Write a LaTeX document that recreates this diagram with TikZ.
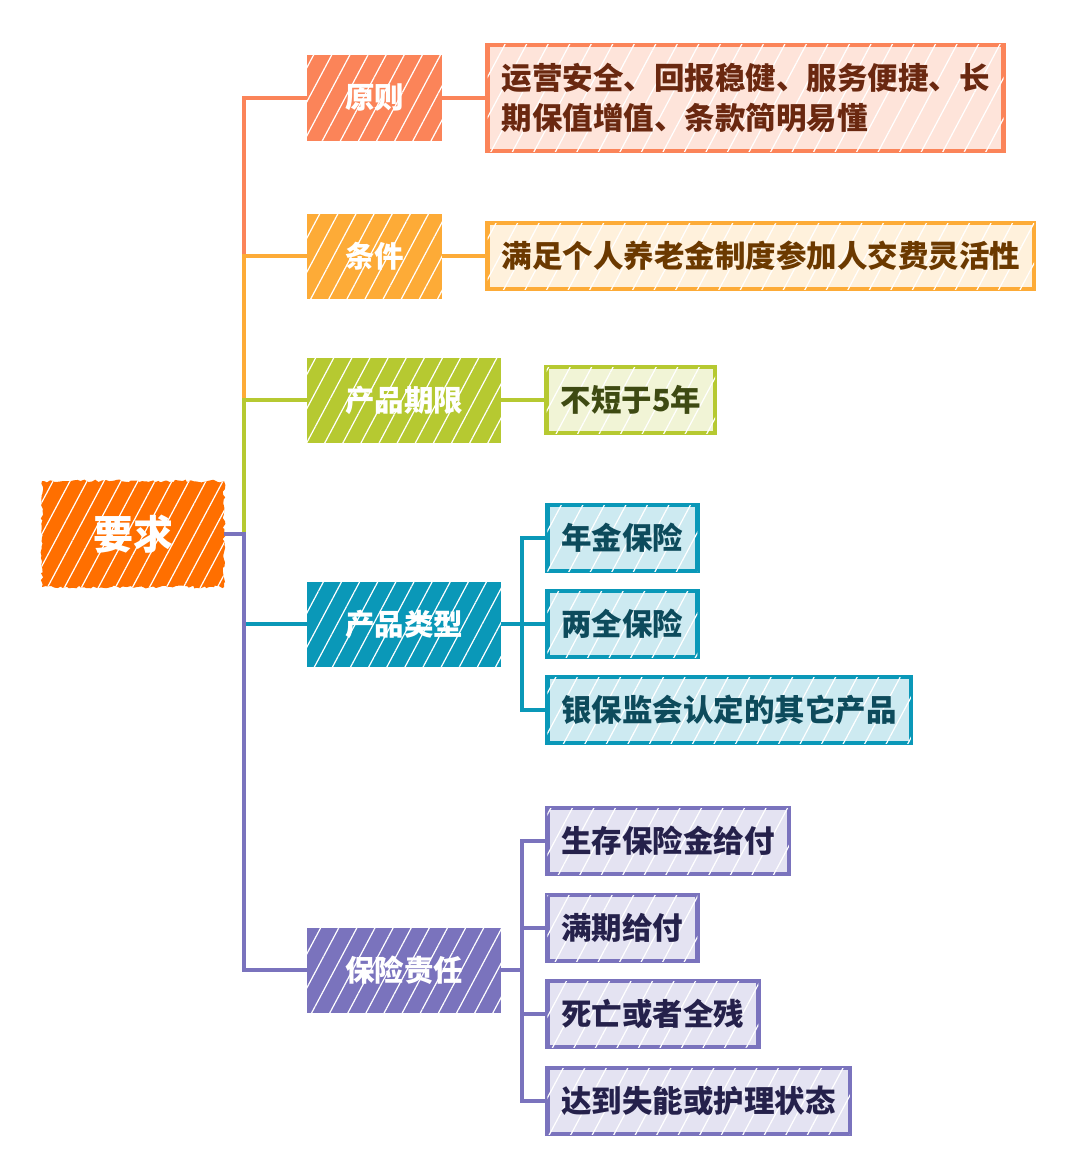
\documentclass[tikz,border=0pt]{standalone}
\usepackage{fontspec}
\setmainfont{Noto Sans CJK SC}
\usetikzlibrary{positioning,patterns.meta,decorations.pathmorphing}
\definecolor{rootorange}{HTML}{FF6F00}
\definecolor{coral}{HTML}{FB8459}
\definecolor{coralpale}{HTML}{FEE4DA}
\definecolor{coraltext}{HTML}{6A2810}
\definecolor{amber}{HTML}{FDAB37}
\definecolor{amberpale}{HTML}{FFF1DC}
\definecolor{ambertext}{HTML}{6B3900}
\definecolor{lime}{HTML}{B6C931}
\definecolor{limepale}{HTML}{F1F4D6}
\definecolor{limetext}{HTML}{3E4A12}
\definecolor{teal}{HTML}{0A98B8}
\definecolor{tealpale}{HTML}{CDEAF1}
\definecolor{tealtext}{HTML}{0D4B5C}
\definecolor{lavender}{HTML}{7A73BD}
\definecolor{lavenderpale}{HTML}{E4E3F2}
\definecolor{lavendertext}{HTML}{25214B}
\tikzset{
  rough/.style={decorate,decoration={random steps,segment length=3pt,amplitude=1.5pt}},
  streaks/.style 2 args={postaction={pattern={Lines[angle=62,distance=#2,line width=1.2pt]},pattern color=white,fill opacity=#1}},
  root/.style={rough,fill=rootorange,streaks={.45}{15pt},text=white,
    font=\bfseries\fontsize{40}{48}\selectfont,minimum width=182pt,minimum height=106pt},
  topic/.style={fill=#1,streaks={.35}{16pt},text=white,anchor=west,
    font=\bfseries\fontsize{29.5}{35}\selectfont,inner xsep=38pt,inner ysep=0pt,minimum height=85pt},
  leaf/.style n args={3}{draw=#1,fill=#2,text=#3,line width=4.5pt,streaks={.3}{19pt},anchor=west,align=left,
    font=\bfseries\fontsize{30.5}{40}\selectfont,inner xsep=14pt,minimum height=66pt},
  branch/.style={draw=#1,line width=4.5pt},
}
\begin{document}
\begin{tikzpicture}[x=1pt,y=-1pt]
  \useasboundingbox (0,0) rectangle (1080,1156);
  % main topic and its branches
  \node[root] (yaoqiu) at (133,534) {要求};
  \coordinate (hub) at (244,534);
  \node[topic=coral]    (yuanze)   at (307,98)  {原则};
  \node[topic=amber]    (tiaojian) at (307,256) {条件};
  \node[topic=lime]     (qixian)   at (307,400) {产品期限};
  \node[topic=teal]     (leixing)  at (307,624) {产品类型};
  \node[topic=lavender] (zeren)    at (307,970) {保险责任};
  % leaves
  \node[leaf={coral}{coralpale}{coraltext},right=43pt of yuanze,minimum height=106pt] (yuanzeA)
    {运营安全、回报稳健、服务便捷、长\\期保值增值、条款简明易懂};
  \node[leaf={amber}{amberpale}{ambertext},right=43pt of tiaojian] (tiaojianA) {满足个人养老金制度参加人交费灵活性};
  \node[leaf={lime}{limepale}{limetext},right=43pt of qixian] (qixianA) {不短于5年};
  \node[leaf={teal}{tealpale}{tealtext}] (nianjin)   at (545,538) {年金保险};
  \node[leaf={teal}{tealpale}{tealtext}] (liangquan) at (545,624) {两全保险};
  \node[leaf={teal}{tealpale}{tealtext}] (qita)      at (545,710) {银保监会认定的其它产品};
  \node[leaf={lavender}{lavenderpale}{lavendertext}] (shengcun) at (545,841)  {生存保险金给付};
  \node[leaf={lavender}{lavenderpale}{lavendertext}] (manqi)    at (545,928)  {满期给付};
  \node[leaf={lavender}{lavenderpale}{lavendertext}] (siwang)   at (545,1014) {死亡或者全残};
  \node[leaf={lavender}{lavenderpale}{lavendertext}] (shineng)  at (545,1101) {达到失能或护理状态};
  % connectors
  \draw[branch=coral] (hub) |- (yuanze.west);
  \draw[branch=coral] (yuanze) -- (yuanzeA);
  \draw[branch=amber] (hub) |- (tiaojian.west);
  \draw[branch=amber] (tiaojian) -- (tiaojianA);
  \draw[branch=lime] (hub) |- (qixian.west);
  \draw[branch=lime] (qixian) -- (qixianA);
  \draw[branch=teal] (hub) |- (leixing.west);
  \coordinate (leixinghub) at (522,624);
  \draw[branch=teal] (leixing) -- (leixinghub);
  \draw[branch=teal] (leixinghub) |- (nianjin.west);
  \draw[branch=teal] (leixinghub) -- (liangquan.west);
  \draw[branch=teal] (leixinghub) |- (qita.west);
  \draw[branch=lavender] (yaoqiu.east) -- (hub) |- (zeren.west);
  \coordinate (zerenhub) at (522,970);
  \draw[branch=lavender] (zeren) -- (zerenhub);
  \draw[branch=lavender] (zerenhub) |- (shengcun.west);
  \draw[branch=lavender] (zerenhub) |- (manqi.west);
  \draw[branch=lavender] (zerenhub) |- (siwang.west);
  \draw[branch=lavender] (zerenhub) |- (shineng.west);
\end{tikzpicture}
\end{document}
